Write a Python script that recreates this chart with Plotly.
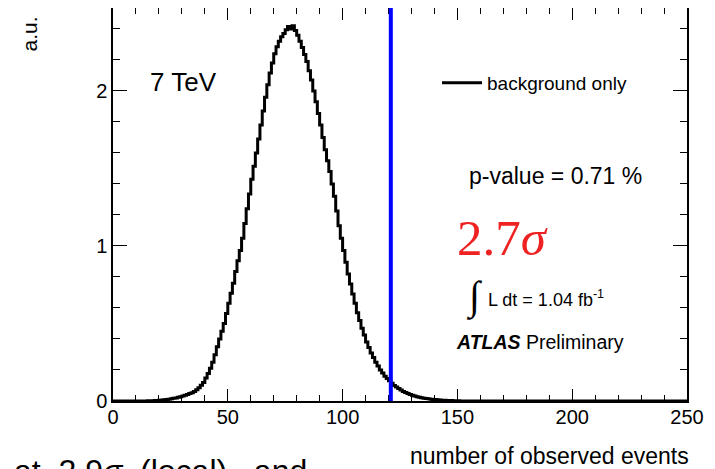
import plotly.graph_objects as go

# ---- data ----
first_bin = 15
bin_values = [
    0.001, 0.002, 0.002, 0.003, 0.004, 0.005, 0.006, 0.008, 0.010, 0.012,   # 15-24
    0.014, 0.017, 0.020, 0.024, 0.028, 0.032, 0.037, 0.042, 0.048, 0.054,   # 25-34
    0.061, 0.072, 0.085, 0.101, 0.120, 0.148, 0.178, 0.212, 0.250, 0.298,   # 35-44
    0.350, 0.400, 0.450, 0.500, 0.565, 0.630, 0.695, 0.760, 0.835, 0.905,   # 45-54
    0.970, 1.050, 1.145, 1.240, 1.335, 1.430, 1.515, 1.600, 1.690, 1.780,   # 55-64
    1.870, 1.960, 2.040, 2.115, 2.180, 2.240, 2.285, 2.320, 2.350, 2.370,   # 65-74
    2.395, 2.415, 2.400, 2.420, 2.390, 2.360, 2.320, 2.280, 2.235, 2.190,   # 75-84
    2.130, 2.070, 2.000, 1.930, 1.855, 1.780, 1.700, 1.620, 1.550, 1.480,   # 85-94
    1.400, 1.320, 1.225, 1.130, 1.050, 0.970, 0.895, 0.820, 0.755, 0.690,   # 95-104
    0.630, 0.570, 0.520, 0.470, 0.425, 0.380, 0.345, 0.310, 0.280, 0.250,   # 105-114
    0.225, 0.200, 0.180, 0.160, 0.145, 0.130, 0.115, 0.100, 0.090, 0.080,   # 115-124
    0.071, 0.062, 0.055, 0.048, 0.042, 0.037, 0.032, 0.028, 0.024, 0.021,   # 125-134
    0.018, 0.016, 0.014, 0.012, 0.010, 0.009, 0.008, 0.006, 0.005, 0.005,   # 135-144
    0.004, 0.003, 0.003, 0.002, 0.002, 0.002,                               # 145-150
]
x_min, x_max = 0, 250
y_max = 2.535
observed_events = 121
x_tick_vals = [0, 50, 100, 150, 200, 250]
y_tick_vals = [0, 1, 2]

# full histogram over the axis range (empty bins = 0)
edges = list(range(x_min, x_max + 1))
counts = []
for lo in edges[:-1]:
    i = lo - first_bin
    counts.append(bin_values[i] if 0 <= i < len(bin_values) else 0.0)
xs = edges
ys = counts + [counts[-1]]

FONT = "Liberation Sans, Arial, Helvetica, sans-serif"
SERIF = "Liberation Serif, DejaVu Serif, Times New Roman, serif"
NB = "\u00a0"

fig = go.Figure()
fig.add_trace(go.Scatter(
    x=xs, y=ys, mode="lines", line=dict(color="black", width=3, shape="hv"),
    name="background only", showlegend=True, cliponaxis=True,
))

fig.add_shape(type="line", xref="x", yref="paper", x0=observed_events, x1=observed_events,
              y0=0, y1=1, line=dict(color="#0000ff", width=4))

# helpers: positions in page pixels -> paper fractions (plot area spans x 113..687, y 8..401 on the page)
def px(x):
    return (x - 113) / 574.0

def py(y):
    return (401 - y) / 393.0

ann = []
ann.append(dict(text="7 TeV", x=px(148), y=py(82), xanchor="left", yanchor="middle",
                font=dict(size=26, family=FONT, color="black")))
ann.append(dict(text="p-value = 0.71 %", x=px(467), y=py(176), xanchor="left", yanchor="middle",
                font=dict(size=23, family=FONT, color="black")))
ann.append(dict(text="2.7<i>σ</i>", x=px(455), y=py(238), xanchor="left", yanchor="middle",
                font=dict(size=51, family=SERIF, color="#ee2222")))
ann.append(dict(text="∫", x=px(474), y=py(296), xanchor="center", yanchor="middle",
                font=dict(size=40, family=SERIF, color="black")))
ann.append(dict(text="L dt = 1.04 fb<sup>-1</sup>", x=px(486), y=py(298), xanchor="left", yanchor="middle",
                font=dict(size=18, family=FONT, color="black")))
ann.append(dict(text="<b><i>ATLAS</i></b> Preliminary", x=px(454), y=py(342), xanchor="left", yanchor="middle",
                font=dict(size=19.5, family=FONT, color="black")))
ann.append(dict(text="a.u.", x=px(29), y=py(15), xanchor="center", yanchor="top", textangle=-90,
                font=dict(size=21, family=FONT, color="black")))
ann.append(dict(text="number of observed events", x=px(691), y=py(456), xanchor="right", yanchor="middle",
                font=dict(size=23, family=FONT, color="black")))
ann.append(dict(text="at" + NB * 2 + "2.9<i>σ</i>" + NB * 2 + "(local)" + NB * 3 + "and",
                x=px(12), y=py(451), xanchor="left", yanchor="top",
                font=dict(size=32, family=FONT, color="black")))
for a in ann:
    a.update(xref="paper", yref="paper", showarrow=False)

# the page body adds an 8px offset: figure is 707x461, plot area at page (113..687, 8..401)
fig.update_layout(
    width=707, height=461,
    margin=dict(l=105, r=28, t=0, b=68, autoexpand=False),
    paper_bgcolor="white", plot_bgcolor="white",
    annotations=ann,
    showlegend=True,
    legend=dict(x=px(437), y=py(83), xanchor="left", yanchor="middle",
                bgcolor="rgba(0,0,0,0)", borderwidth=0,
                font=dict(size=19, family=FONT, color="black"), itemwidth=40),
    font=dict(family=FONT, color="black"),
)
fig.update_xaxes(
    range=[x_min, x_max], tickvals=x_tick_vals, ticks="inside", ticklen=12, tickwidth=1,
    tickcolor="black", showline=True, linecolor="black", linewidth=1.5, mirror="allticks",
    showgrid=False, zeroline=False, tickfont=dict(size=20, family=FONT, color="black"),
    ticklabelstandoff=-3, automargin=False,
    minor=dict(dtick=10, ticks="inside", ticklen=6, tickcolor="black", showgrid=False),
)
fig.update_yaxes(
    range=[0, y_max], tickvals=y_tick_vals, ticks="inside", ticklen=14, tickwidth=1,
    tickcolor="black", showline=True, linecolor="black", linewidth=1.5, mirror="allticks",
    showgrid=False, zeroline=False, tickfont=dict(size=20, family=FONT, color="black"),
    automargin=False,
    minor=dict(dtick=0.2, ticks="inside", ticklen=7, tickcolor="black", showgrid=False),
)

fig.write_html("out.html")
